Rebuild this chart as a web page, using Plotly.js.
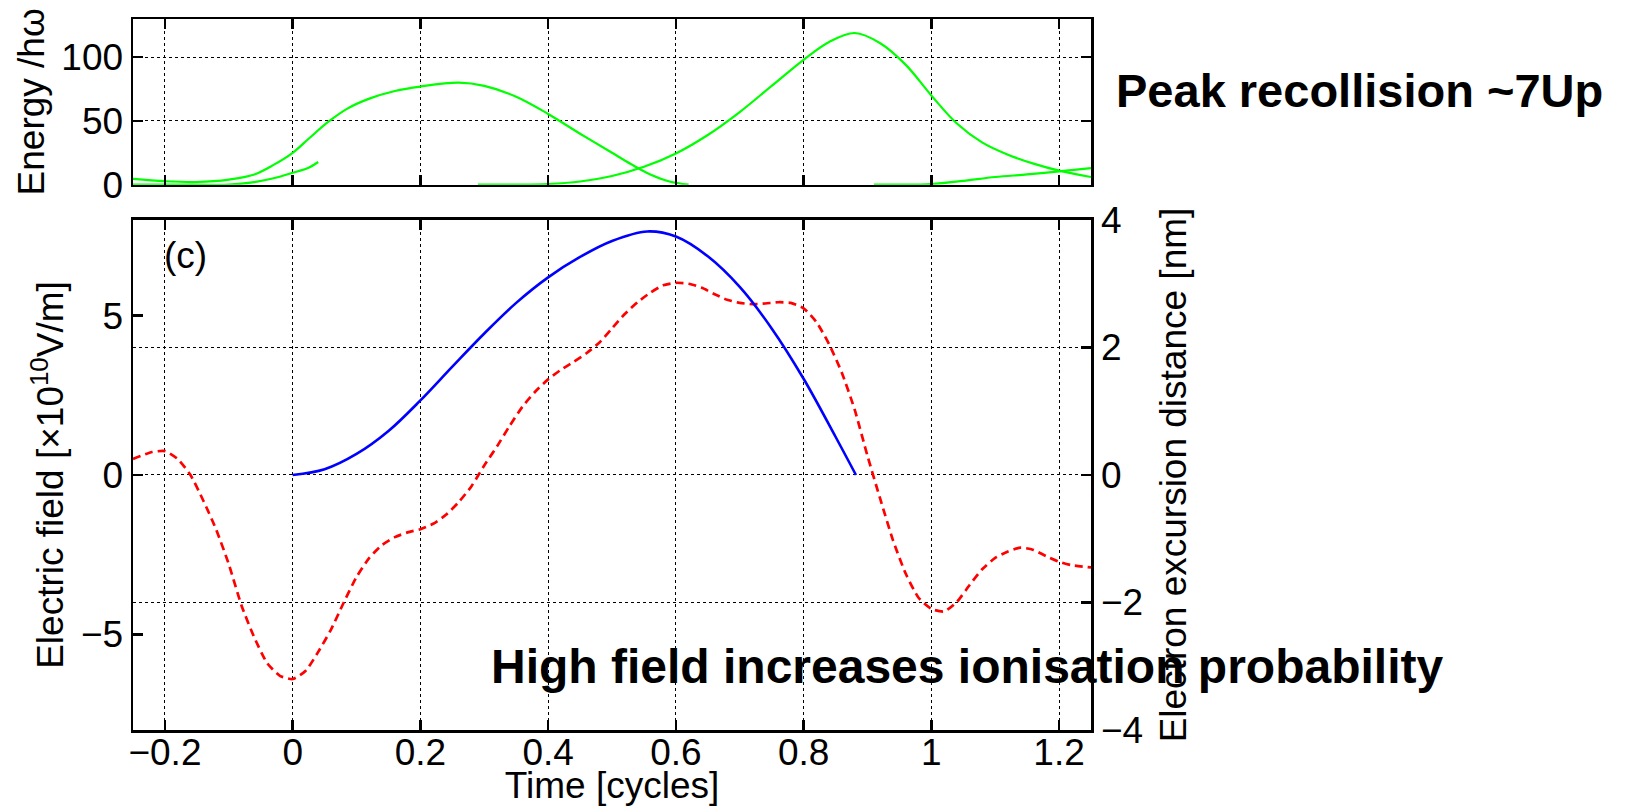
<!DOCTYPE html>
<html>
<head>
<meta charset="utf-8">
<script src="https://cdn.plot.ly/plotly-3.0.1.min.js"></script>
<style>html,body{margin:0;padding:0;background:#fff;}#chart{width:1625px;height:806px;}</style>
</head>
<body>
<div id="chart"></div>
<script>
// ---- Top panel: energy curves (units of hbar*omega) ----
const energyD_x = [-0.25,-0.2,-0.15,-0.1,-0.06,-0.03,0,0.025,0.04];
const energyD_y = [0,0,0,0,2,5,9.3,13.3,17.8];

const energyA_x = [-0.25,-0.2,-0.15,-0.1,-0.06,-0.03,0,0.025,0.055,0.085,0.12,0.16,0.2,0.26,0.3,0.35,0.4,0.45,0.5,0.53,0.56,0.59,0.62];
const energyA_y = [4.5,2.7,2.1,4,8,15.5,25,36,49,59.5,67.5,73.5,77,80,77.5,69,55.5,40,25,16,8,2.5,0];

const energyB_x = [0.29,0.35,0.4,0.45,0.5,0.55,0.6,0.65,0.7,0.75,0.8,0.84,0.88,0.92,0.96,1.0,1.04,1.08,1.12,1.16,1.2,1.25];
const energyB_y = [0,0,0.5,2.5,6.8,14,24.5,39,57,77.5,98,112,119,111,94,70,48,33,23.5,16.5,11,6];

const energyC_x = [0.91,0.95,1.0,1.05,1.1,1.15,1.2,1.25];
const energyC_y = [0,0,0.5,3,6,8,10.4,13];

// ---- Bottom panel: electric field (x1e10 V/m) ----
const field_x = [-0.25,-0.22,-0.2,-0.18,-0.16,-0.14,-0.12,-0.1,-0.08,-0.06,-0.04,-0.02,0,0.02,0.04,0.06,0.08,0.1,0.12,0.14,0.16,0.18,0.2,0.22,0.24,0.26,0.28,0.3,0.32,0.34,0.36,0.38,0.4,0.42,0.44,0.46,0.48,0.5,0.52,0.54,0.56,0.58,0.6,0.62,0.64,0.66,0.68,0.7,0.72,0.74,0.76,0.78,0.8,0.82,0.84,0.86,0.88,0.9,0.92,0.94,0.96,0.98,1.0,1.02,1.04,1.06,1.08,1.1,1.12,1.14,1.16,1.18,1.2,1.22,1.25];
const field_y = [0.5,0.72,0.75,0.5,0.0,-0.8,-1.7,-2.8,-4.1,-5.1,-5.9,-6.3,-6.4,-6.15,-5.55,-4.85,-4.0,-3.2,-2.6,-2.2,-1.95,-1.8,-1.7,-1.53,-1.25,-0.85,-0.35,0.3,0.9,1.55,2.15,2.62,3.0,3.3,3.55,3.82,4.15,4.6,5.05,5.42,5.72,5.95,6.03,6.0,5.88,5.68,5.5,5.4,5.36,5.38,5.42,5.4,5.23,4.8,4.1,3.2,2.05,0.6,-0.75,-2.05,-3.1,-3.85,-4.2,-4.28,-3.98,-3.45,-2.95,-2.6,-2.4,-2.28,-2.35,-2.55,-2.72,-2.83,-2.9];

// ---- Bottom panel: electron excursion distance (nm) ----
const excursion_x = [0,0.05,0.1,0.15,0.2,0.25,0.3,0.35,0.4,0.45,0.5,0.555,0.6,0.65,0.7,0.75,0.8,0.85,0.882];
const excursion_y = [0,0.09,0.33,0.69,1.17,1.7,2.22,2.7,3.1,3.42,3.67,3.82,3.74,3.43,2.95,2.3,1.51,0.6,0];

const xTicks = [-0.2,0,0.2,0.4,0.6,0.8,1,1.2];
const xTickText = ['\u22120.2','0','0.2','0.4','0.6','0.8','1','1.2'];
const energyTicks = [0,50,100];
const fieldTicks = [-5,0,5];
const fieldTickText = ['\u22125','0','5'];
const excursionTicks = [-4,-2,0,2,4];
const excursionTickText = ['\u22124','\u22122','0','2','4'];

const FONT = 'Liberation Sans, Arial, Helvetica, sans-serif';
const GREEN = '#00ff00';

const greenLine = {color: GREEN, width: 2.2, shape: 'spline', smoothing: 1};
const traces = [
  {x: energyD_x, y: energyD_y, xaxis: 'x2', yaxis: 'y3', mode: 'lines', line: greenLine, hoverinfo: 'skip'},
  {x: energyA_x, y: energyA_y, xaxis: 'x2', yaxis: 'y3', mode: 'lines', line: greenLine, hoverinfo: 'skip'},
  {x: energyB_x, y: energyB_y, xaxis: 'x2', yaxis: 'y3', mode: 'lines', line: greenLine, hoverinfo: 'skip'},
  {x: energyC_x, y: energyC_y, xaxis: 'x2', yaxis: 'y3', mode: 'lines', line: greenLine, hoverinfo: 'skip'},
  {x: field_x, y: field_y, xaxis: 'x', yaxis: 'y', mode: 'lines', line: {color: '#ff0000', width: 2.7, dash: '8px,5px', shape: 'spline', smoothing: 0.6}, hoverinfo: 'skip'},
  {x: excursion_x, y: excursion_y, xaxis: 'x', yaxis: 'y2', mode: 'lines', line: {color: '#0000ff', width: 2.6, shape: 'spline', smoothing: 1}, hoverinfo: 'skip'}
];

const gridStyle = {gridcolor: '#000', gridwidth: 1, griddash: 'dot'};
const axisLine = {showline: true, linecolor: '#000', linewidth: 2.5, ticks: 'inside', ticklen: 10, tickwidth: 2.5, tickcolor: '#000', zeroline: false};
const tickFont = {family: FONT, size: 37, color: '#000'};

const layout = {
  width: 1625, height: 806,
  margin: {l: 133, r: 534, t: 19, b: 76, pad: 0},
  paper_bgcolor: '#fff', plot_bgcolor: '#fff',
  showlegend: false,
  font: {family: FONT, color: '#000'},
  xaxis: Object.assign({}, axisLine, gridStyle, {
    domain: [0, 1], anchor: 'y', range: [-0.25, 1.25],
    tickvals: xTicks, ticktext: xTickText, showgrid: true, mirror: 'ticks',
    tickfont: tickFont, ticklabelstandoff: -12,
    title: {text: 'Time [cycles]', font: {family: FONT, size: 37}, standoff: 16}
  }),
  xaxis2: Object.assign({}, axisLine, gridStyle, {
    domain: [0, 1], anchor: 'y3', range: [-0.25, 1.25], matches: 'x',
    tickvals: xTicks, showticklabels: false, showgrid: true, mirror: 'ticks'
  }),
  yaxis: Object.assign({}, axisLine, {
    domain: [0, 0.7173], anchor: 'x', range: [-8, 8],
    tickvals: fieldTicks, ticktext: fieldTickText, showgrid: false,
    tickfont: tickFont,
    title: {text: 'Electric field [\u00d710<sup>10</sup>V/m]', font: {family: FONT, size: 37}, standoff: 6}
  }),
  yaxis2: Object.assign({}, axisLine, gridStyle, {
    overlaying: 'y', side: 'right', anchor: 'x', range: [-4, 4],
    tickvals: excursionTicks, ticktext: excursionTickText, showgrid: true,
    tickfont: tickFont,
    title: {text: 'Electron excursion distance [nm]', font: {family: FONT, size: 37}, standoff: 18}
  }),
  yaxis3: Object.assign({}, axisLine, gridStyle, {
    domain: [0.767, 1], anchor: 'x2', range: [0, 130],
    tickvals: energyTicks, showgrid: true, mirror: 'ticks',
    tickfont: tickFont,
    title: {text: 'Energy /h\u03c9', font: {family: FONT, size: 37}, standoff: 6}
  }),
  annotations: [
    {text: '(c)', xref: 'x', yref: 'y', x: -0.205, y: 6.9, xanchor: 'left', yanchor: 'middle', showarrow: false, font: {family: FONT, size: 37, color: '#000'}},
    {text: '<b>Peak recollision ~7Up</b>', xref: 'paper', yref: 'paper', x: 1.024, y: 0.9, xanchor: 'left', yanchor: 'middle', showarrow: false, font: {family: FONT, size: 47, color: '#000'}},
    {text: '<b>High field increases ionisation probability</b>', xref: 'paper', yref: 'paper', x: 0.372, y: 0.09, xanchor: 'left', yanchor: 'middle', showarrow: false, font: {family: FONT, size: 48, color: '#000'}}
  ]
};

Plotly.newPlot('chart', traces, layout, {staticPlot: true, displayModeBar: false});
</script>
</body>
</html>
